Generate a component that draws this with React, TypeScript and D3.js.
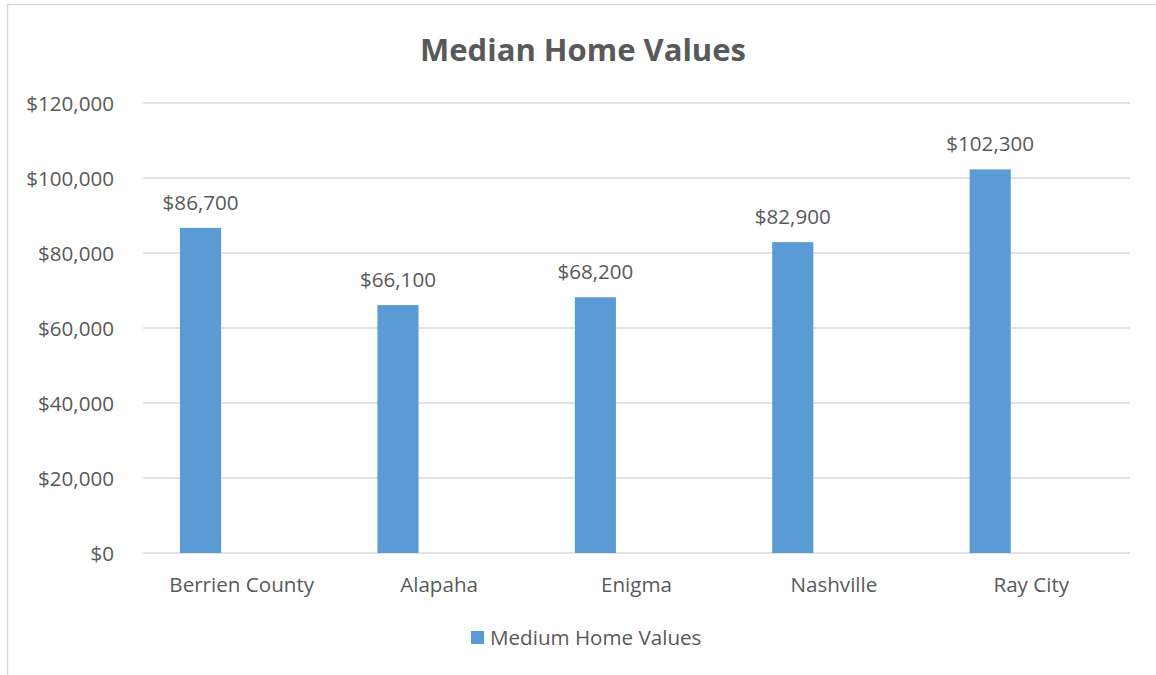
import React from 'react';
import * as d3 from 'd3';

const categories = ['Berrien County', 'Alapaha', 'Enigma', 'Nashville', 'Ray City'];
const values = [86700, 66100, 68200, 82900, 102300];
const yTicks = [0, 20000, 40000, 60000, 80000, 100000, 120000];
// Excel cluster has three series slots, only the first one carries data
const seriesSlots = ['Medium Home Values', 's2', 's3'];
const seriesName = 'Medium Home Values';

const W = 1156;
const H = 675;
const plot = { left: 143, right: 1130, top: 103, bottom: 553 };
const textColor = '#595959';
const barColor = '#5b9bd5';
const font = 'Open Sans, sans-serif';
const fs = 20.6;

const fmt = (v: number) => '$' + d3.format(',')(v);

export default function App() {
  const x = d3.scaleBand<string>().domain(categories).range([plot.left, plot.right]);
  const inner = d3.scaleBand<string>()
    .domain(seriesSlots)
    .range([0, x.bandwidth()])
    .paddingOuter(0.9)
    .paddingInner(0);
  const y = d3.scaleLinear().domain([0, 120000]).range([plot.bottom, plot.top]);

  return (
    <svg width={W} height={H} style={{ position: 'absolute', left: 0, top: 0 }}>
      <rect x={0} y={0} width={W} height={H} fill="#fff" />
      <rect x={7.5} y={4.5} width={W + 20} height={H + 20} fill="#fff" stroke="#d9d9d9" strokeWidth={1.5} />

      <text x={583} y={61} textAnchor="middle" fontFamily={font} fontSize={31} fontWeight="bold" fill={textColor}>
        Median Home Values
      </text>

      {yTicks.map((t) => (
        <g key={t}>
          <line x1={plot.left} x2={plot.right} y1={y(t)} y2={y(t)} stroke="#d9d9d9" strokeWidth={1.5} />
          <text x={114} y={y(t)} dy="0.4em" textAnchor="end" fontFamily={font} fontSize={fs} fill={textColor}>
            {fmt(t)}
          </text>
        </g>
      ))}

      {categories.map((c, i) => {
        const bx = (x(c) ?? 0) + (inner(seriesSlots[0]) ?? 0);
        const bw = inner.bandwidth();
        return (
          <g key={c}>
            <rect x={bx} y={y(values[i])} width={bw} height={y(0) - y(values[i])} fill={barColor} />
            <text x={bx + bw / 2} y={y(values[i]) - 18} textAnchor="middle" fontFamily={font} fontSize={fs} fill={textColor}>
              {fmt(values[i])}
            </text>
            <text x={(x(c) ?? 0) + x.bandwidth() / 2} y={592} textAnchor="middle" fontFamily={font} fontSize={fs} fill={textColor}>
              {c}
            </text>
          </g>
        );
      })}

      <rect x={471} y={631} width={13} height={13} fill={barColor} />
      <text x={490} y={645} fontFamily={font} fontSize={fs} fill={textColor}>
        {seriesName}
      </text>
    </svg>
  );
}
